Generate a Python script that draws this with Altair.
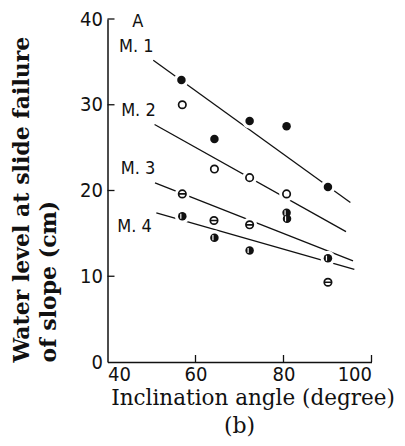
import altair as alt
import pandas as pd

# ---- data ----
m1_x = [56.8, 64.3, 72.3, 80.7, 90.1]
m1_y = [32.9, 26.0, 28.1, 27.5, 20.4]
m2_x = [57.0, 64.3, 72.3, 80.7]
m2_y = [30.0, 22.5, 21.5, 19.6]
m3_x = [57.0, 64.2, 72.3, 90.1]
m3_y = [19.6, 16.5, 16.0, 9.3]
m4_x = [57.0, 64.3, 72.3, 80.7, 80.8, 90.1]
m4_y = [17.0, 14.5, 13.0, 17.4, 16.7, 12.1]

line_series = ["M. 1", "M. 1", "M. 2", "M. 2", "M. 3", "M. 3", "M. 4", "M. 4"]
line_x = [50.4, 95.2, 50.7, 94.2, 50.8, 95.8, 51.1, 96.1]
line_y = [35.2, 18.6, 27.7, 15.2, 20.9, 11.8, 17.4, 10.8]

label_text = ["A", "M. 1", "M. 2", "M. 3", "M. 4"]
label_x = [45.6, 42.6, 43.1, 43.0, 42.2]
label_y = [39.6, 36.7, 29.3, 22.5, 15.7]

x_ticks = [40, 60, 80, 100]
y_ticks = [0, 10, 20, 30, 40]

SANS = "Liberation Sans Narrow, DejaVu Sans Condensed, Roboto, sans-serif"
SERIF = "DejaVu Serif, Liberation Serif, serif"

m1 = pd.DataFrame({"x": m1_x, "y": m1_y})
m2 = pd.DataFrame({"x": m2_x, "y": m2_y})
m3 = pd.DataFrame({"x": m3_x, "y": m3_y})
m4 = pd.DataFrame({"x": m4_x, "y": m4_y})
allpts = pd.concat([m1, m2, m3, m4], ignore_index=True)
lines = pd.DataFrame({"s": line_series, "x": line_x, "y": line_y})
labels = pd.DataFrame({"t": label_text, "x": label_x, "y": label_y})
xt = pd.DataFrame({"x": x_ticks[1:]})
yt = pd.DataFrame({"y": y_ticks[1:]})

xs = alt.Scale(domain=[40, 100], nice=False, zero=False)
ys = alt.Scale(domain=[0, 40], nice=False, zero=False)

x_axis = alt.Axis(
    values=x_ticks, ticks=False, grid=False, domain=True,
    domainColor="#111", domainWidth=1.5,
    labelFont=SANS, labelFontSize=20, labelColor="#111", labelPadding=2,
    title="Inclination angle (degree)", titleFont=SERIF, titleFontSize=21.5,
    titleFontWeight="normal", titleColor="#111", titleAlign="center",
    titleBaseline="alphabetic", titleX=145, titleY=42,
)
y_axis = alt.Axis(
    values=y_ticks, ticks=False, grid=False, domain=True,
    domainColor="#111", domainWidth=1.5,
    labelFont=SANS, labelFontSize=20, labelColor="#111", labelPadding=5,
    title=["Water level at slide failure", "of slope (cm)"],
    titleFont=SERIF, titleFontSize=22, titleFontWeight="bold",
    titleColor="#111", titleAngle=270, titleAlign="left",
    titleBaseline="alphabetic", titleX=-79, titleY=343, titleLineHeight=27,
)

X = alt.X("x:Q", scale=xs, axis=x_axis)
Y = alt.Y("y:Q", scale=ys, axis=y_axis)

line_layer = alt.Chart(lines).mark_line(color="#111", strokeWidth=1.3).encode(
    x=X, y=Y, detail="s:N",
)

halo = alt.Chart(allpts).mark_point(
    shape="circle", filled=True, color="white", opacity=1, size=220
).encode(x=X, y=Y)

p1 = alt.Chart(m1).mark_point(
    shape="circle", filled=True, color="#111", opacity=1, size=72
).encode(x=X, y=Y)

p2 = alt.Chart(m2).mark_point(
    shape="circle", filled=False, color="#111", opacity=1, size=55, strokeWidth=1.7
).encode(x=X, y=Y)

theta_path = "M-1,0A1,1,0,1,1,1,0A1,1,0,1,1,-1,0ZM-1,0L1,0"
p3 = alt.Chart(m3).mark_point(
    shape=theta_path, filled=False, color="#111", opacity=1, size=55, strokeWidth=1.7
).encode(x=X, y=Y)

p4 = alt.Chart(m4).mark_point(
    shape="circle", filled=True, color="#111", opacity=1, size=72
).encode(x=X, y=Y)

p4s = alt.Chart(m4).mark_point(
    shape="M-0.35,-0.6L-0.35,0.6", filled=False, color="white", opacity=1,
    size=72, strokeWidth=1.2
).encode(x=X, y=Y)

txt = alt.Chart(labels).mark_text(
    font=SANS, fontSize=18, align="left", baseline="middle", color="#111"
).encode(x=X, y=Y, text="t:N")

xtick = alt.Chart(xt).mark_rule(color="#111", strokeWidth=1.3).encode(
    x=X, y=alt.value(343), y2=alt.value(336)
)
ytick = alt.Chart(yt).mark_rule(color="#111", strokeWidth=1.3).encode(
    y=Y, x=alt.value(0), x2=alt.value(7)
)

chart = alt.layer(line_layer, halo, p1, p2, p3, p4, p4s, txt, xtick, ytick).properties(
    width=264, height=343,
    background="white",
    title=alt.TitleParams("(b)", orient="bottom", anchor="middle", font=SERIF,
                          fontSize=22, fontWeight="normal", color="#111", offset=7),
    autosize=alt.AutoSizeParams(type="none"),
    padding={"left": 99.5, "top": 11, "right": 25.5, "bottom": 76},
).configure_view(stroke=None)

chart.save("out.html", embed_options={"renderer": "svg", "actions": False})
